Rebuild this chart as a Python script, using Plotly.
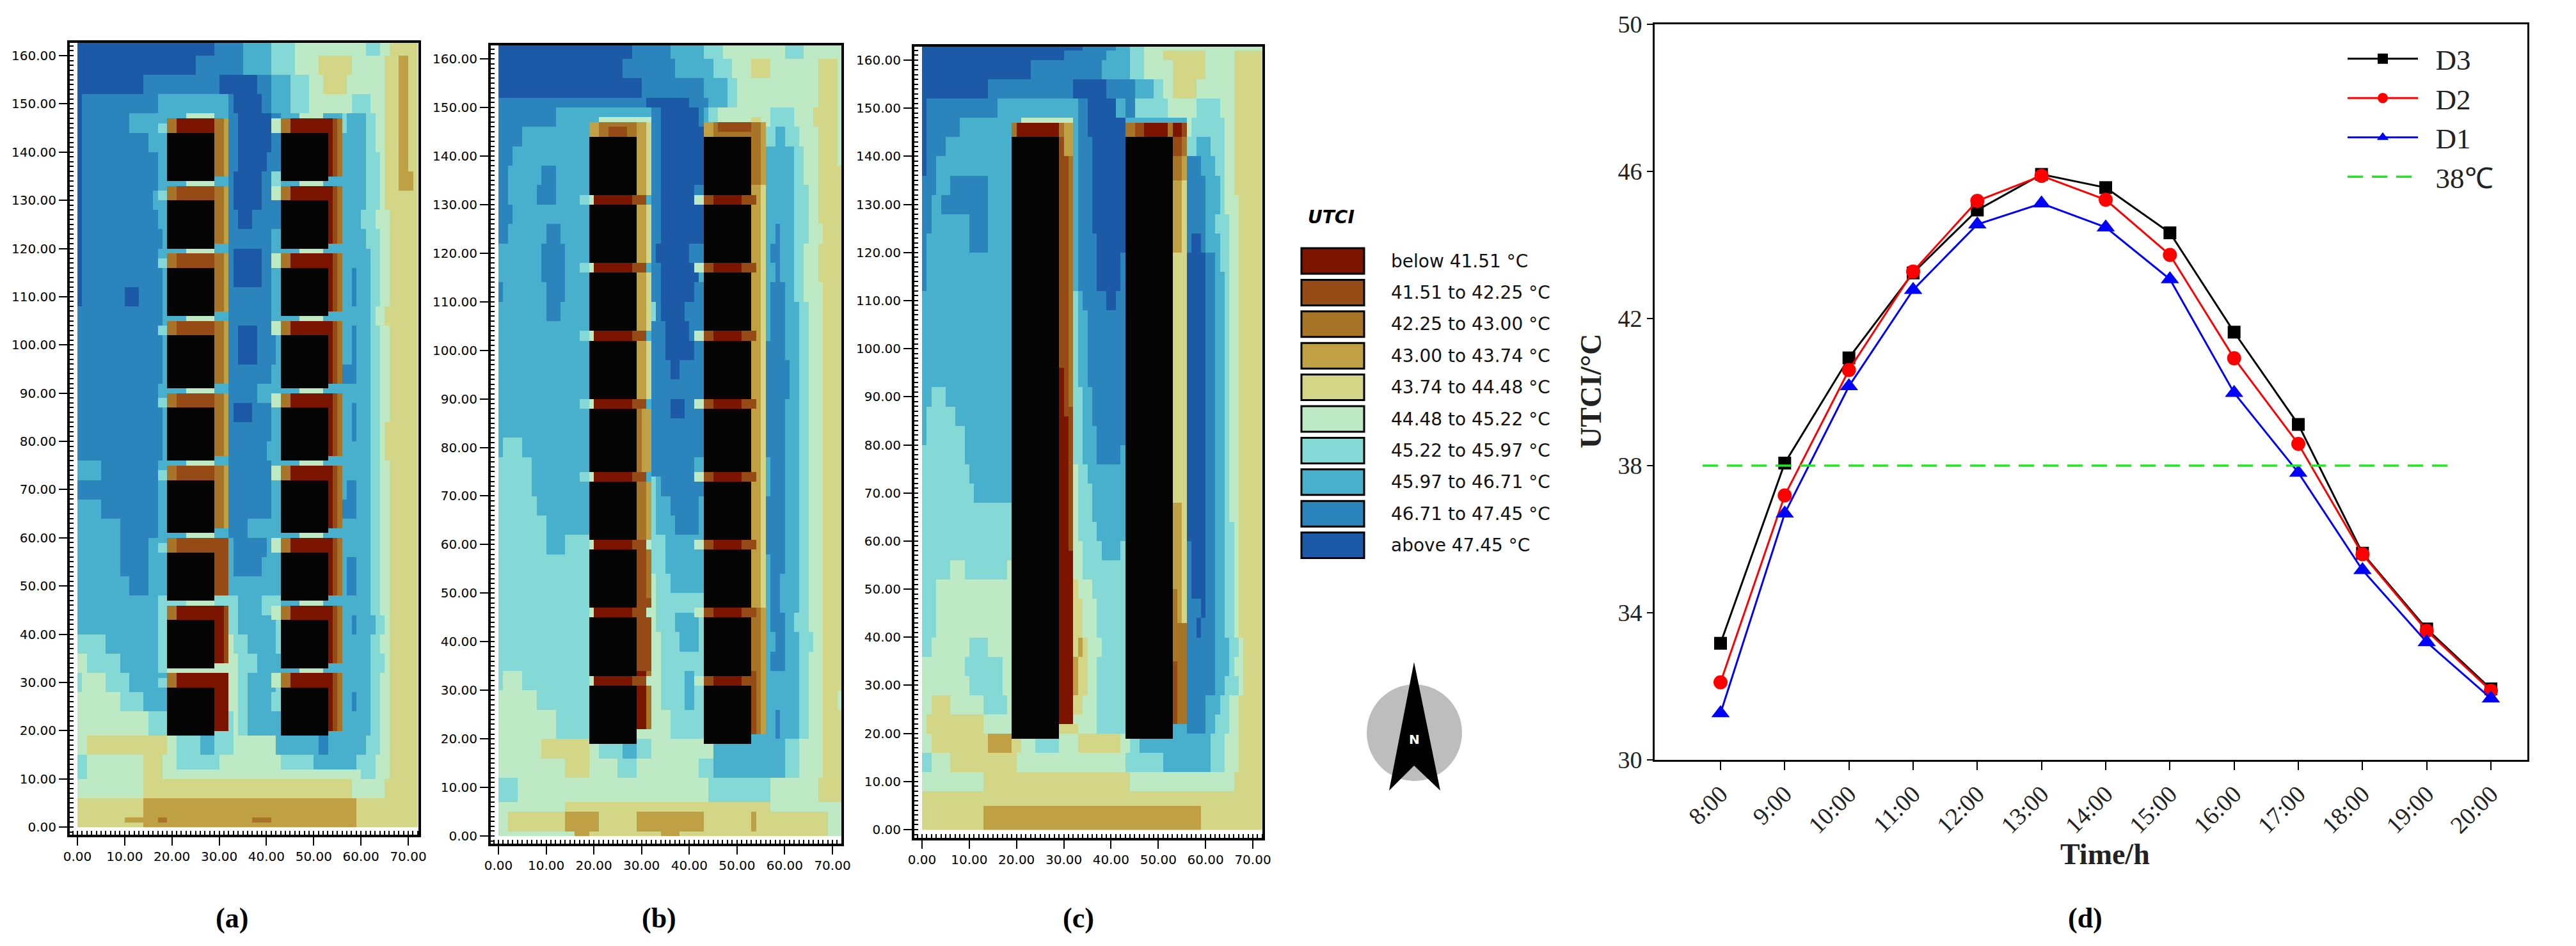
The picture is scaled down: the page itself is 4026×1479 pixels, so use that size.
import numpy as np
import plotly.graph_objects as go

W, H = 4026, 1479
NX, NY = 72, 163

LEVEL_COLORS = ["#7B1500", "#964B16", "#A87428", "#BFA044", "#D3D587",
                "#BDEAC5", "#84D8D6", "#48AFCD", "#2C84BD", "#1C5AA8"]
BUILDING_COLOR = "#050505"
LEVEL_LABELS = ["below 41.51 °C", "41.51 to 42.25 °C", "42.25 to 43.00 °C", "43.00 to 43.74 °C",
                "43.74 to 44.48 °C", "44.48 to 45.22 °C", "45.22 to 45.97 °C", "45.97 to 46.71 °C",
                "46.71 to 47.45 °C", "above 47.45 °C"]

# Each row: lower y of the band, then "level:x_end" runs
ROWS_A = [
 (160,"9:29 8:35 7:41 6:46 5:61 6:64 5:66 4:72"),
 (156,"9:25 8:35 7:41 6:46 5:51 4:58 5:65 4:68 3:70 4:72"),
 (152,"9:14 8:30 9:38 8:41 7:45 6:49 5:52 4:57 5:65 4:68 3:70 4:72"),
 (148,"9:1 8:17 7:32 8:33 9:39 8:41 7:45 6:49 5:58 6:62 5:65 4:68 3:70 4:72"),
 (144,"9:1 8:11 7:32 8:34 9:41 8:43 7:56 6:57 7:61 6:63 5:65 4:68 3:70 4:72"),
 (140,"9:1 8:15 7:32 8:34 9:41 8:43 7:61 6:63 5:65 4:68 3:70 4:72"),
 (136,"9:1 8:17 7:32 8:34 9:40 8:43 7:61 6:64 5:65 4:68 3:70 4:72"),
 (132,"9:1 8:17 7:32 8:33 9:39 8:41 6:43 7:61 6:64 5:65 4:68 3:71 4:72"),
 (128,"9:1 8:16 7:32 8:33 9:39 8:43 7:61 6:64 5:65 4:72"),
 (124,"9:1 8:17 7:32 8:34 9:37 8:43 7:60 6:63 5:66 4:72"),
 (120,"9:1 8:18 7:32 8:41 7:43 7:61 6:64 5:66 4:72"),
 (116,"9:1 8:17 7:32 8:33 9:39 8:41 7:43 7:62 6:64 5:66 4:72"),
 (112,"9:1 8:18 7:32 8:33 9:39 8:41 7:58 8:59 7:62 6:64 5:66 4:72"),
 (108,"9:1 8:10 9:13 8:18 7:32 8:41 7:58 8:59 7:62 6:64 5:66 4:72"),
 (104,"8:18 7:32 8:41 7:62 6:63 5:65 4:72"),
 (100,"8:18 7:32 8:34 9:38 8:42 7:58 8:59 7:62 6:64 5:66 4:72"),
 (96,"8:18 7:32 8:34 9:38 8:42 7:58 8:59 7:62 6:64 5:66 4:72"),
 (92,"8:18 7:32 8:41 7:56 8:59 7:62 6:64 5:66 4:72"),
 (88,"8:17 7:32 8:38 7:62 6:64 5:66 4:72"),
 (84,"8:18 7:32 8:33 9:37 8:41 7:58 8:59 7:62 6:64 5:66 4:72"),
 (80,"8:18 7:32 8:41 7:58 8:59 7:62 6:64 5:65 4:72"),
 (76,"8:18 7:32 8:40 7:62 6:64 5:65 4:72"),
 (72,"7:5 8:17 7:32 8:41 7:62 6:64 5:66 4:72"),
 (68,"8:17 7:32 8:41 7:57 8:59 7:62 6:64 5:66 4:72"),
 (64,"7:5 8:17 7:32 8:41 7:56 8:59 7:62 6:64 5:66 4:72"),
 (60,"7:9 8:17 7:32 8:36 7:62 6:64 5:66 4:72"),
 (56,"7:9 8:15 7:33 8:40 7:62 6:64 5:66 4:72"),
 (52,"7:9 8:15 7:33 8:39 7:57 8:59 7:62 6:64 5:66 4:72"),
 (48,"7:11 8:15 7:57 8:59 7:62 6:64 5:66 4:72"),
 (44,"7:17 6:34 7:39 6:43 7:62 6:64 5:66 4:72"),
 (40,"7:17 6:34 7:42 6:43 7:58 8:59 7:63 6:65 5:66 4:72"),
 (36,"6:6 7:17 6:19 5:33 6:36 7:42 6:43 7:62 6:64 5:66 4:72"),
 (32,"5:2 6:9 7:17 6:19 5:34 6:38 7:43 7:62 6:65 5:66 4:72"),
 (28,"6:1 5:6 6:11 7:19 5:34 6:36 7:42 6:43 7:62 6:64 5:66 4:72"),
 (24,"5:9 6:14 7:19 5:34 6:36 7:41 6:43 7:58 8:59 7:62 6:64 5:66 4:72"),
 (19,"5:15 6:19 6:33 5:34 6:36 7:62 6:64 5:66 4:72"),
 (15,"5:2 4:19 5:21 6:26 7:29 6:33 5:42 7:51 8:53 7:61 6:64 5:66 4:72"),
 (12,"6:2 5:14 4:18 5:21 6:30 5:43 6:50 7:59 6:63 5:66 4:72"),
 (10,"6:2 5:14 4:18 5:60 6:63 5:66 4:72"),
 (6,"5:14 4:58 5:65 4:72"),
 (2,"4:14 3:59 4:72"),
 (1,"4:10 3:17 2:19 3:37 2:41 3:59 4:72"),
 (0,"4:14 3:59 4:72"),
]
ROWS_B = [
 (160,"9:28 8:36 7:43 6:47 5:60 6:64 5:72"),
 (156,"9:26 8:37 7:45 6:49 5:53 4:57 5:67 4:71 5:72"),
 (152,"9:30 8:43 7:48 6:50 5:67 4:71 5:72"),
 (150,"8:31 9:40 8:44 7:48 6:50 5:67 4:71 5:72"),
 (146,"8:12 7:32 8:34 9:42 8:43 7:44 6:46 5:57 6:62 5:66 4:71 5:72"),
 (142,"8:5 7:32 8:34 9:43 7:56 6:58 7:60 6:63 5:67 4:71 5:72"),
 (138,"8:3 7:32 8:34 9:43 7:62 6:64 5:67 4:71 5:72"),
 (134,"8:2 7:9 8:12 7:32 8:34 9:43 7:62 6:64 5:67 4:72"),
 (130,"8:2 7:8 8:12 7:32 8:34 9:41 8:43 7:62 6:65 5:67 4:72"),
 (126,"8:3 7:32 8:34 9:43 7:62 6:65 5:67 4:72"),
 (122,"8:2 7:10 8:13 7:32 8:34 9:43 7:58 8:59 7:62 6:65 5:68 4:72"),
 (118,"7:9 8:14 7:32 8:33 9:40 8:43 7:57 8:59 7:62 6:64 5:67 4:72"),
 (114,"7:9 8:14 7:32 8:34 9:42 7:58 8:59 7:62 6:64 5:67 4:72"),
 (110,"8:1 7:10 8:14 7:32 8:34 9:41 8:43 7:57 8:60 7:62 6:64 5:68 4:72"),
 (106,"7:10 8:13 7:32 6:33 8:34 9:39 8:43 7:57 8:60 7:63 6:65 5:68 4:72"),
 (102,"7:32 8:35 9:40 8:43 7:57 8:60 7:63 6:65 5:68 4:72"),
 (98,"7:32 8:35 9:41 8:43 7:56 8:60 7:63 6:65 5:68 4:72"),
 (94,"7:32 8:36 9:38 8:43 7:56 8:61 7:63 6:65 5:68 4:72"),
 (90,"7:32 8:43 7:56 8:61 7:63 6:65 5:68 4:72"),
 (86,"7:32 8:36 9:39 8:43 7:56 8:60 7:63 6:65 5:68 4:72"),
 (82,"7:32 8:43 7:56 8:60 7:63 6:65 5:68 4:72"),
 (78,"7:1 6:5 7:32 8:43 7:56 8:60 7:63 6:65 5:68 4:72"),
 (74,"6:7 7:32 8:41 7:57 8:60 7:63 6:65 5:68 4:72"),
 (70,"6:7 7:32 6:33 7:34 8:43 7:57 8:60 7:63 6:65 5:68 4:72"),
 (66,"6:8 7:32 6:33 7:36 8:42 7:56 8:60 7:63 6:65 5:68 4:72"),
 (62,"6:10 7:32 6:33 7:37 8:42 7:56 8:60 7:63 6:65 5:68 4:72"),
 (58,"6:10 7:14 6:35 7:56 8:60 7:63 6:65 5:68 4:72"),
 (54,"6:35 7:57 8:60 7:63 6:65 5:68 4:72"),
 (50,"6:32 5:33 6:36 7:57 8:59 7:63 6:65 5:68 4:72"),
 (46,"6:32 5:33 6:43 7:57 8:59 7:63 6:65 5:68 4:72"),
 (42,"6:32 5:33 6:37 7:42 6:43 7:57 8:60 7:62 6:65 5:68 4:72"),
 (38,"6:32 5:34 6:38 7:42 6:43 7:58 8:60 7:63 6:66 5:68 4:72"),
 (34,"6:32 5:34 6:43 7:57 8:60 7:63 6:65 5:68 4:72"),
 (30,"6:1 5:5 6:19 5:34 6:39 7:41 6:43 7:63 6:65 5:68 4:72"),
 (26,"5:8 6:19 5:34 6:39 7:41 6:43 7:63 6:65 5:68 4:71 5:72"),
 (20,"5:12 6:19 5:36 6:43 7:58 8:59 7:63 6:65 5:68 4:72"),
 (16,"5:9 4:19 5:21 6:26 7:29 6:32 5:45 7:60 6:63 5:68 4:72"),
 (12,"5:14 4:19 5:25 6:29 5:42 6:45 7:60 6:63 5:68 4:72"),
 (7,"6:4 5:44 6:57 5:67 4:72"),
 (5,"5:14 4:57 5:72"),
 (1,"5:2 4:14 3:21 4:29 3:43 4:53 3:54 4:69 5:72"),
 (0,"5:16 3:19 4:34 3:38 4:69 5:72"),
]
ROWS_C = [
 (162,"9:34 8:41 7:44 6:47 5:72"),
 (160,"9:30 8:39 7:44 6:47 5:51 4:60 5:66 4:72"),
 (156,"9:23 8:38 7:44 6:47 5:53 4:60 5:66 4:72"),
 (152,"9:14 8:32 9:39 8:45 7:49 6:51 5:53 4:58 5:66 4:72"),
 (148,"9:1 8:16 7:33 8:35 9:41 7:43 8:45 6:52 5:58 6:63 5:66 4:72"),
 (144,"9:1 8:8 7:33 8:35 9:43 7:56 5:57 6:64 5:66 4:72"),
 (140,"9:1 8:5 7:33 8:36 9:43 7:56 6:58 7:61 6:64 5:66 4:72"),
 (136,"9:1 8:3 7:33 8:36 9:43 7:56 8:59 7:62 6:64 5:66 4:72"),
 (132,"8:3 7:6 8:14 7:33 8:36 9:43 7:56 8:60 7:63 6:64 5:66 4:72"),
 (128,"8:2 7:4 8:14 7:33 8:36 9:43 7:56 8:60 7:63 6:64 5:67 4:72"),
 (124,"8:2 7:10 8:14 7:33 8:36 9:43 7:56 8:60 7:62 6:65 5:67 4:72"),
 (120,"8:1 7:10 8:14 7:33 8:37 9:43 8:57 9:59 8:60 7:63 6:65 5:67 4:72"),
 (116,"8:1 7:33 8:37 9:42 8:43 9:60 8:62 7:63 6:65 5:67 4:72"),
 (112,"8:1 7:33 8:37 9:42 8:43 9:60 8:62 7:64 6:65 5:67 4:72"),
 (108,"7:32 6:33 7:34 8:39 9:41 8:43 9:60 8:62 7:64 6:65 5:67 4:72"),
 (92,"7:32 6:33 7:35 8:43 9:60 8:62 7:64 6:65 5:67 4:72"),
 (88,"7:2 6:5 7:32 6:34 7:36 8:43 9:60 8:62 7:64 6:65 5:67 4:72"),
 (84,"7:1 6:7 7:32 6:34 7:36 8:43 9:60 8:62 7:64 6:65 5:67 4:72"),
 (80,"7:1 6:9 7:32 6:34 7:37 8:43 9:60 8:62 7:64 6:65 5:67 4:72"),
 (76,"6:9 7:32 6:34 7:37 8:42 7:43 9:60 8:62 7:64 6:65 5:67 4:72"),
 (72,"6:10 7:32 5:33 6:35 7:43 9:60 8:62 7:64 6:65 5:67 4:72"),
 (68,"6:11 7:32 5:33 6:36 7:43 9:60 8:62 7:64 6:65 5:67 4:72"),
 (64,"6:32 5:33 6:36 7:43 9:60 8:62 7:64 6:65 5:67 4:72"),
 (60,"6:32 5:33 6:37 7:43 9:60 8:62 7:64 6:66 5:67 4:72"),
 (56,"6:32 5:34 6:38 7:42 6:43 8:57 9:60 8:62 7:64 6:66 5:67 4:72"),
 (52,"6:6 5:9 6:18 5:34 6:43 8:57 9:60 8:62 7:64 6:66 5:67 4:72"),
 (48,"6:3 5:32 4:33 5:36 6:43 8:57 9:60 8:62 7:64 6:66 5:67 4:72"),
 (44,"6:3 5:32 4:34 5:37 6:43 8:59 9:60 8:62 7:64 6:66 5:67 4:72"),
 (40,"6:3 5:32 4:34 5:37 6:43 8:58 9:59 8:62 7:64 6:66 5:67 4:72"),
 (36,"6:2 5:10 6:14 5:32 4:33 3:34 4:35 5:38 6:43 8:62 7:65 6:67 5:68 4:72"),
 (32,"5:9 6:17 5:32 3:33 4:35 5:37 6:43 8:62 7:65 6:66 5:68 4:72"),
 (28,"5:10 6:17 5:32 3:33 4:35 5:37 6:43 8:62 7:64 6:67 5:68 4:72"),
 (24,"5:2 4:6 5:13 6:18 5:32 4:34 5:37 6:43 8:60 7:63 6:65 5:67 4:72"),
 (20,"5:1 4:13 5:37 6:43 7:56 8:60 7:62 6:65 5:67 4:72"),
 (16,"5:2 4:14 3:19 4:21 5:24 6:29 5:33 4:42 5:44 6:46 7:61 6:64 5:67 4:72"),
 (12,"6:2 5:6 4:20 5:43 6:51 7:61 6:64 5:67 4:72"),
 (8,"5:13 4:44 5:66 4:72"),
 (5,"4:72"),
 (0,"4:13 3:59 4:72"),
]

BUILD_X = [(19, 29), (43, 53)]
BLOCKS_A = [(134,144),(120,130),(106,116),(91,102),(76,87),(61,72),(47,57),(33,43),(19,29)]
BLOCKS_B = [(132,144),(118,130),(104,116),(90,102),(75,88),(61,73),(47,59),(33,45),(19,31)]
BLOCKS_C = [(19,144)]

A_LEFT_TOP = [0,1,1,1,1,1,1,0,0]
A_LEFT_E1 = [2,2,2,2,2,2,1,0,0]
A_LEFT_E2 = [3,3,3,3,3,3,1,1,0]

# Rectangles of cell levels along the building walls: x0, x1, y0, y1, level
B_WALLS = [
 (19,32,144,147,3),(21,29,144,147,2),(23,27,144,146,1),(21,32,147,148,5),
 (29,31,90,147,3),(31,32,90,147,4),(29,30,75,90,2),(30,32,75,90,3),
 (29,31,61,75,2),(31,32,61,75,3),(29,31,49,61,1),(31,32,49,61,2),
 (29,32,34,49,1),(29,31,22,34,0),(31,32,22,34,2),(31,32,130,132,7),(31,32,116,118,7),
 (31,32,102,104,7),(31,32,88,90,7),(31,32,73,75,7),(31,32,59,61,5),(31,32,45,47,5),(31,32,31,33,5),
 (43,56,144,147,3),(45,55,144,147,2),(46,53,145,147,1),(53,55,134,147,2),(55,56,134,147,3),
 (53,55,147,148,4),(53,55,47,134,3),(55,56,47,134,4),(53,55,34,47,2),(55,56,34,47,3),
 (53,54,21,34,1),(54,55,21,34,2),(55,56,21,34,3),
]
B_GAPS = [(130,132),(116,118),(102,104),(88,90),(73,75),(59,61),(45,47),(31,33)]
C_WALLS = [
 (21,32,147,148,5),(19,32,144,147,2),(20,29,144,147,0),(29,30,96,144,1),(30,31,86,144,1),
 (31,32,88,140,2),(30,32,140,147,3),(29,30,22,96,0),(30,31,22,86,0),(31,32,58,88,1),(31,32,22,58,0),
 (29,33,20,22,4),(43,53,144,147,2),(45,47,144,147,1),(47,52,144,147,0),(53,55,144,147,0),(55,56,144,147,1),
 (53,55,140,144,1),(55,56,140,144,2),(53,55,135,140,2),(55,56,135,140,3),(53,55,120,135,3),(55,56,120,135,4),
 (53,56,68,120,4),(53,55,50,68,3),(55,56,50,68,4),(53,54,43,50,2),(54,55,43,50,3),(55,56,43,50,4),
 (53,56,35,43,2),(53,54,22,35,1),(54,56,22,35,2),
]

HOURS = ["8:00","9:00","10:00","11:00","12:00","13:00","14:00","15:00","16:00","17:00","18:00","19:00","20:00"]
D3 = [33.17,38.07,40.93,43.24,44.95,45.92,45.56,44.33,41.63,39.12,35.62,33.56,31.93]
D2 = [32.11,37.19,40.60,43.28,45.20,45.88,45.23,43.73,40.92,38.59,35.59,33.51,31.88]
D1 = [31.27,36.70,40.16,42.78,44.56,45.13,44.48,43.07,39.98,37.81,35.16,33.20,31.67]
THRESHOLD = 38
THRESHOLD_SPAN = [-0.28, 11.44]


def fill(grid, x0, x1, y0, y1, level):
    grid[y0:y1, x0:x1] = level


def build_grid(rows, blocks, patches):
    grid = np.zeros((NY, NX), dtype=int)
    top = NY
    for ymin, txt in rows:
        x = 0
        for run in txt.split():
            lvl, end = run.split(":")
            grid[ymin:top, x:int(end)] = int(lvl)
            x = int(end)
        top = ymin
    for p in patches:
        fill(grid, *p)
    for (x0, x1) in BUILD_X:
        for (y0, y1) in blocks:
            fill(grid, x0, x1, y0, y1, 10)
    return grid


patches_a = []
for i, (b0, b1) in enumerate(BLOCKS_A):
    t = A_LEFT_TOP[i]
    patches_a += [(23, 29, b1+3, b1+4, 5), (17, 19, b1, b1+2, 6),
                  (19, 32, b1, b1+3, min(t+2, 2)), (21, 30, b1, b1+3, t),
                  (29, 31, b0+1, b1+3, A_LEFT_E1[i]), (31, 32, b0+1, b1+3, A_LEFT_E2[i]),
                  (41, 43, b1, b1+3, 5), (47, 52, b1+3, b1+4, 5),
                  (43, 56, b1, b1+3, 2), (45, 54, b1, b1+3, 0),
                  (53, 54, b0+1, b1+3, 0), (54, 55, b0+1, b1+3, 1), (55, 56, b0+1, b1+3, 2)]
patches_b = list(B_WALLS)
for g0, g1 in B_GAPS:
    patches_b += [(17, 19, g0, g1, 6), (19, 20, g0, g1, 5), (20, 28, g0, g1, 0), (28, 31, g0, g1, 1),
                  (41, 43, g0, g1, 5), (43, 45, g0, g1, 1), (45, 51, g0, g1, 0), (51, 54, g0, g1, 1)]
patches_c = list(C_WALLS)

grid_a = build_grid(ROWS_A, BLOCKS_A, patches_a)
grid_b = build_grid(ROWS_B, BLOCKS_B, patches_b)
grid_c = build_grid(ROWS_C, BLOCKS_C, patches_c)

all_colors = LEVEL_COLORS + [BUILDING_COLOR]
cs = []
for i, c in enumerate(all_colors):
    cs += [[i/11, c], [(i+1)/11, c]]

fig = go.Figure()
xc = np.arange(NX) + 0.5
yc = np.arange(NY) + 0.5


def fx(p): return p / W
def fy(p): return 1 - p / H


# frame pixels: left, right, top, bottom, x0px, x70px, y160px, y0px
PANELS = [
    ("", grid_a, 109, 654, 67, 1305, 121, 638, 87, 1293),
    ("2", grid_b, 767, 1315, 71, 1319, 779, 1301, 92, 1307),
    ("3", grid_c, 1429, 1973, 73, 1310, 1441, 1958, 94, 1297),
]
layout_axes = {}
for suf, grid, l, r, t, b, x0p, x70p, y160p, y0p in PANELS:
    fig.add_trace(go.Heatmap(x=xc, y=yc, z=grid, colorscale=cs, zmin=-0.5, zmax=10.5,
                             showscale=False, xaxis="x"+suf, yaxis="y"+suf, hoverinfo="skip"))
    sx = (x70p - x0p) / 70
    sy = (y0p - y160p) / 160
    tick_font = dict(family="DejaVu Sans", size=20, color="black")
    common = dict(showgrid=False, zeroline=False, showline=True, linecolor="black", linewidth=4, mirror=True,
                  automargin=False, ticks="outside", ticklen=13, tickwidth=2, tickcolor="black", tickformat=".2f",
                  dtick=10, tick0=0, tickfont=tick_font,
                  minor=dict(ticks="inside", dtick=1, ticklen=6, tickwidth=1.5, tickcolor="black"))
    layout_axes["xaxis"+suf] = dict(common, domain=[fx(l), fx(r)], range=[(l-x0p)/sx, (r-x0p)/sx],
                                    anchor="y"+suf, tickangle=0)
    layout_axes["yaxis"+suf] = dict(common, domain=[fy(b), fy(t)], range=[(y0p-b)/sy, (y0p-t)/sy],
                                    anchor="x"+suf)

# Panel (d)
DL, DR, DT, DB = 2586, 3950, 38, 1188
X8, X20 = 2689, 3893
sxd = (X20 - X8) / 12
xs = list(range(len(HOURS)))
for name, vals, col, sym, size in [("\u00a0\u00a0D3", D3, "#000000", "square", 20),
                                   ("\u00a0\u00a0D2", D2, "#FF0000", "circle", 22),
                                   ("\u00a0\u00a0D1", D1, "#0000FF", "triangle-up", 25)]:
    fig.add_trace(go.Scatter(x=xs, y=vals, name=name, mode="lines+markers", xaxis="x4", yaxis="y4",
                             line=dict(color=col, width=3), marker=dict(symbol=sym, size=size, color=col)))
fig.add_trace(go.Scatter(x=THRESHOLD_SPAN, y=[THRESHOLD]*2, name="\u00a0\u00a038℃", mode="lines", xaxis="x4", yaxis="y4",
                         line=dict(color="#1FE81F", width=3.5, dash="24px,14px")))
serif = "Liberation Serif"
layout_axes["xaxis4"] = dict(domain=[fx(DL), fx(DR)], range=[(DL-X8)/sxd, (DR-X8)/sxd], anchor="y4", automargin=False,
                             tickmode="array", tickvals=xs, ticktext=HOURS, tickangle=-45, showgrid=False,
                             zeroline=False, showline=True, linecolor="black", linewidth=3, mirror=True,
                             ticks="outside", ticklen=13, tickwidth=2, tickcolor="black",
                             tickfont=dict(family=serif, size=38, color="#222"))
layout_axes["yaxis4"] = dict(domain=[fy(DB), fy(DT)], range=[30, 50], anchor="x4", automargin=False, tickmode="array",
                             tickvals=[30, 34, 38, 42, 46, 50], showgrid=False, zeroline=False, showline=True,
                             linecolor="black", linewidth=3, mirror=True, ticks="outside", ticklen=9, tickwidth=2,
                             tickcolor="black", tickfont=dict(family=serif, size=38, color="#222"))

shapes = []
annos = []


def text(x, y, s, size, family="DejaVu Sans", anchor="center", color="black"):
    annos.append(dict(x=fx(x), y=fy(y), xref="paper", yref="paper", text=s, showarrow=False, xanchor=anchor,
                      yanchor="middle", font=dict(family=family, size=size, color=color)))


# UTCI key
for i, (c, lab) in enumerate(zip(LEVEL_COLORS, LEVEL_LABELS)):
    y0 = 388 + i * 49.4
    shapes.append(dict(type="rect", xref="paper", yref="paper", x0=fx(2034), x1=fx(2132), y0=fy(y0), y1=fy(y0+40),
                       fillcolor=c, line=dict(color="black", width=3)))
    text(2172, y0 + 20, lab, 28, anchor="left", color="#111")
text(2080, 339, "<b><i>UTCI</i></b>", 28)

# North arrow
shapes.append(dict(type="circle", xref="paper", yref="paper", x0=fx(2136), x1=fx(2285), y0=fy(1070), y1=fy(1221),
                   fillcolor="#BDBDBD", line=dict(width=0)))
path = f"M {fx(2210)} {fy(1035)} L {fx(2251)} {fy(1236)} L {fx(2210)} {fy(1197)} L {fx(2171)} {fy(1236)} Z"
shapes.append(dict(type="path", xref="paper", yref="paper", path=path, fillcolor="black", line=dict(width=0)))
text(2210, 1156, "<b>N</b>", 20, color="white")

# Panel tags and axis titles
for x, s in [(362, "(a)"), (1030, "(b)"), (1685, "(c)"), (3259, "(d)")]:
    text(x, 1435, f"<b>{s}</b>", 44, family=serif)
text(3290, 1335, "<b>Time/h</b>", 46, family=serif, color="#222")
annos.append(dict(x=fx(2487), y=fy(612), xref="paper", yref="paper", text="<b>UTCI/°C</b>", showarrow=False,
                  textangle=-90, font=dict(family=serif, size=46, color="#222")))

fig.update_layout(width=W, height=H, autosize=False, margin=dict(l=0, r=0, t=0, b=0), paper_bgcolor="white",
                  plot_bgcolor="white", shapes=shapes, annotations=annos, showlegend=True,
                  legend=dict(x=fx(3664), y=fy(56), xanchor="left", yanchor="top", bgcolor="rgba(0,0,0,0)",
                              font=dict(family=serif, size=45, color="#222"), itemwidth=110, borderwidth=0,
                              itemsizing="trace"),
                  **layout_axes)

fig.write_html("out.html", config={"displayModeBar": False},
               post_script="document.body.style.margin='0';document.documentElement.style.overflow='hidden';")
